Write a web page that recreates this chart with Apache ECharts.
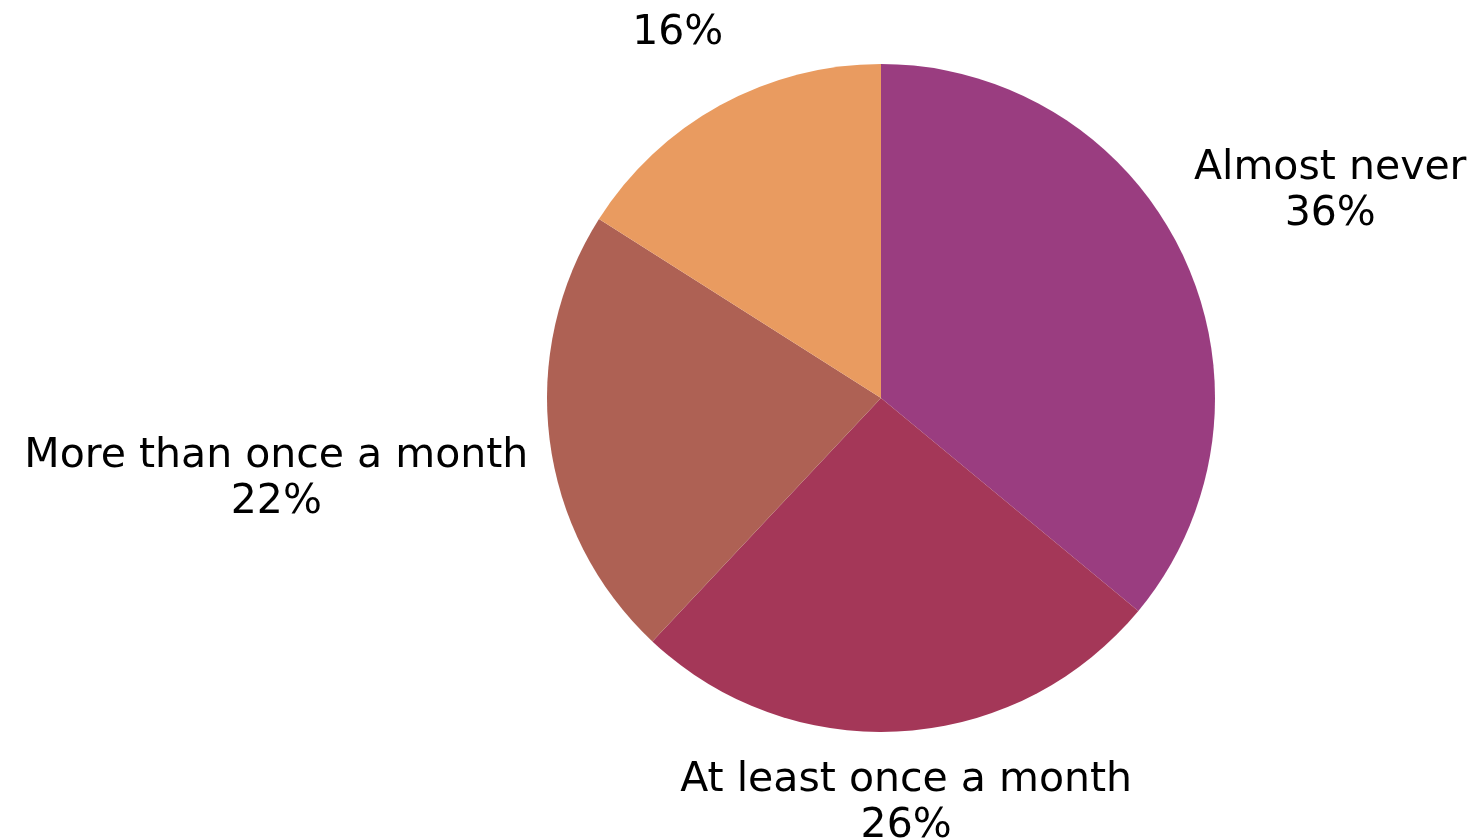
<!DOCTYPE html>
<html>
<head>
<meta charset="utf-8">
<style>
  html, body { margin: 0; padding: 0; background: #ffffff; }
  #chart { width: 1477px; height: 838px; }
</style>
<script src="https://cdn.jsdelivr.net/npm/echarts@6/dist/echarts.min.js"></script>
</head>
<body>
<div id="chart"></div>
<script>
// Survey answers, clockwise from 12 o'clock
const categories = ['Almost never', 'At least once a month', 'More than once a month', 'At least once a week'];
const shares = [36, 26, 22, 16];
const colors = ['#9A3D80', '#A43758', '#AE6154', '#E99B60'];
// Slices whose label shows only the percentage
const valueOnly = [false, false, false, true];

const CX = 881, CY = 398, R = 334;
const FONT = 'DejaVu Sans';
const BASELINE_SHIFT = 5;

const total = shares.reduce((a, b) => a + b, 0);
const midAngles = [];
let acc = 0;
shares.forEach(v => {
  midAngles.push(90 - (acc + v / 2) / total * 360);
  acc += v;
});

// Push a label box outward along its slice's mid-angle until its nearest
// point sits `gap` pixels outside the circle.
function placeLabel(i, w, h, gap) {
  const a = midAngles[i] * Math.PI / 180;
  const ux = Math.cos(a), uy = -Math.sin(a);
  const target = R + gap;
  const nearest = d => {
    const cx = d * ux, cy = d * uy;
    const nx = Math.max(cx - w, Math.min(0, cx + w));
    const ny = Math.max(cy - h, Math.min(0, cy + h));
    return Math.hypot(nx, ny);
  };
  let lo = 0, hi = 2000;
  for (let k = 0; k < 60; k++) {
    const mid = (lo + hi) / 2;
    if (nearest(mid) < target) lo = mid; else hi = mid;
  }
  return { x: CX + lo * ux, y: CY + lo * uy };
}

const chart = echarts.init(document.getElementById('chart'), null, { renderer: 'canvas' });
chart.setOption({
  backgroundColor: '#ffffff',
  animation: false,
  series: [{
    type: 'pie',
    center: [CX, CY],
    radius: [0, R],
    startAngle: 90,
    clockwise: true,
    avoidLabelOverlap: false,
    itemStyle: { borderWidth: 0 },
    label: {
      show: true,
      position: 'outside',
      fontFamily: FONT,
      fontSize: 41,
      fontWeight: 400,
      lineHeight: 46,
      color: '#000000',
      align: 'center',
      formatter: p => valueOnly[p.dataIndex] ? p.value + '%' : p.name + '\n' + p.value + '%'
    },
    labelLine: { show: false },
    labelLayout: p => {
      const gap = valueOnly[p.dataIndex] ? 47 : 20;
      const pos = placeLabel(p.dataIndex, p.labelRect.width / 2, p.labelRect.height / 2, gap);
      return { x: pos.x, y: pos.y + BASELINE_SHIFT, align: 'center', verticalAlign: 'middle' };
    },
    emphasis: { disabled: true },
    data: categories.map((name, i) => ({
      name: name,
      value: shares[i],
      itemStyle: { color: colors[i] }
    }))
  }]
});
</script>
</body>
</html>
